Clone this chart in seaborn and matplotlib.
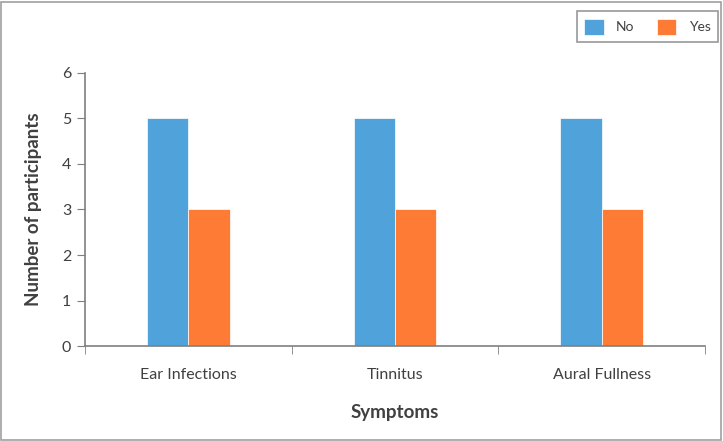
import matplotlib
matplotlib.use("Agg")
import matplotlib.pyplot as plt
import matplotlib.patches as patches
import seaborn as sns
import pandas as pd
import numpy as np

symptoms = ["Ear Infections", "Tinnitus", "Aural Fullness"]
no_counts = [5, 5, 5]
yes_counts = [3, 3, 3]

df = pd.DataFrame({
    "Symptoms": symptoms * 2,
    "Count": no_counts + yes_counts,
    "Answer": ["No"] * len(symptoms) + ["Yes"] * len(symptoms),
})

sns.set_style("white")
plt.rcParams['font.family'] = ['Lato', 'DejaVu Sans']

grey = "#7f7f7f"
txt = "#404040"

fig = plt.figure(figsize=(7.23, 4.41), dpi=100)
ax = fig.add_axes([0.1176, 0.2154, 0.8575, 0.6191])

sns.barplot(data=df, x="Symptoms", y="Count", hue="Answer",
            palette={"No": "#4fa3da", "Yes": "#fd7b35"},
            width=0.4, saturation=1, ax=ax, legend=True,
            edgecolor="white", linewidth=0.5)

ax.set_xlim(-0.5, 2.5)
ax.set_ylim(0, 6)
ax.set_yticks(range(0, 7))
ax.tick_params(axis="y", direction="out", length=6, color=grey, labelsize=11.5, labelcolor=txt, pad=4, left=True)
ax.tick_params(axis="x", which="major", length=0, labelsize=11.5, labelcolor=txt, pad=16)
ax.set_xticks([-0.5, 0.5, 1.5, 2.5], minor=True)
ax.tick_params(axis="x", which="minor", direction="out", length=6, color=grey, bottom=True)

for s in ["top", "right"]:
    ax.spines[s].set_visible(False)
for s in ["left", "bottom"]:
    ax.spines[s].set_color(grey)
    ax.spines[s].set_linewidth(1.2)

ax.set_xlabel("Symptoms", fontsize=13.5, fontweight="bold", color=txt, labelpad=16)
ax.set_ylabel("Number of participants", fontsize=13.5, fontweight="bold", color=txt, labelpad=14)

leg = ax.legend(loc="upper right", bbox_to_anchor=(0.9935, 0.975), bbox_transform=fig.transFigure,
                ncol=2, frameon=True, fancybox=False, fontsize=10, handlelength=1.4, handleheight=1.4,
                columnspacing=1.6, handletextpad=0.9, borderpad=0.55, borderaxespad=0)
leg.get_frame().set_edgecolor(grey)
leg.get_frame().set_linewidth(1.2)
for t in leg.get_texts():
    t.set_color(txt)

border = patches.Rectangle((0.002, 0.003), 0.995, 0.993, transform=fig.transFigure,
                           fill=False, edgecolor="#a0a0a0", linewidth=1.2)
fig.patches.append(border)

fig.savefig("out.png", dpi=100)
